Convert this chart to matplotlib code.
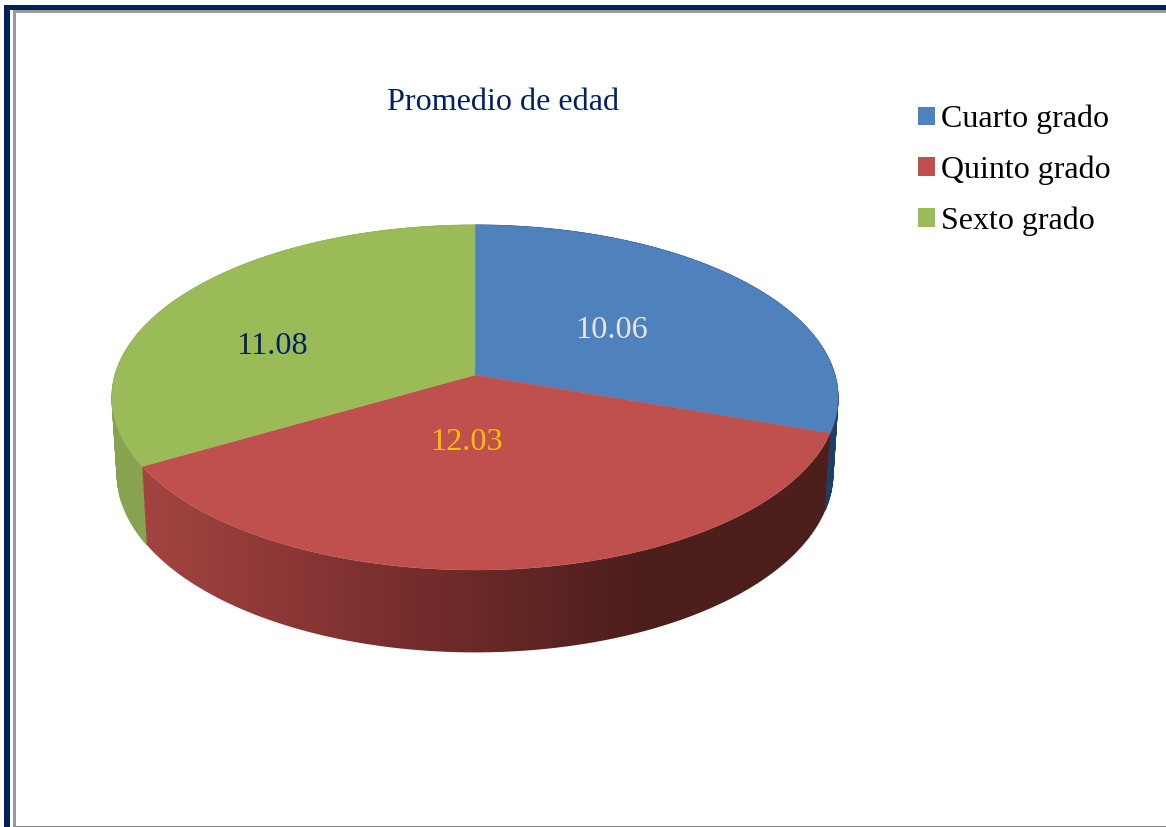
import numpy as np
import matplotlib
matplotlib.use("Agg")
import matplotlib.pyplot as plt
from matplotlib.patches import Polygon, Rectangle, Patch

categories = ["Cuarto grado", "Quinto grado", "Sexto grado"]
values = [10.06, 12.03, 11.08]
value_labels = ["10.06", "12.03", "11.08"]
title = "Promedio de edad"

top_colors = ["#4F81BD", "#C0504D", "#9BBB59"]
label_colors = ["#E6E6E6", "#FFC000", "#002060"]
label_pos = [(612, 330), (466, 442), (272, 347)]
side_flat = {0: "#1B3F66", 2: "#87A34F"}
NAVY = "#002060"

plt.rcParams["font.family"] = ["Liberation Serif", "DejaVu Serif"]
fig = plt.figure(figsize=(11.66, 8.27), dpi=100)
ax = fig.add_axes([0, 0, 1, 1])
ax.axis("off")

# page frame
ax.add_patch(Rectangle((4, 5), 1162, 5, fc=NAVY, ec="none"))
ax.add_patch(Rectangle((4, 5), 6, 822, fc=NAVY, ec="none"))
ax.add_patch(Rectangle((13, 10), 1153, 2.5, fc="#9A9A9A", ec="none"))
ax.add_patch(Rectangle((13, 10), 2.5, 817, fc="#9A9A9A", ec="none"))
ax.add_patch(Rectangle((13, 825.5), 1153, 1.5, fc="#8A8A8A", ec="none"))


def project(theta, A, B, Y0, k=0.1304):
    u, v = np.sin(theta), np.cos(theta)
    w = 1 + k * v
    return 475 + A * u / w, Y0 - B * v / w


def top(theta):
    return project(theta, 360, 169.6, 375)


def bottom(theta):
    return project(theta, 355, 176, 450)


edges = np.cumsum([0] + values) / np.sum(values) * 2 * np.pi

# flat side walls
for i in side_flat:
    th = np.linspace(edges[i], edges[i + 1], 120)
    for a, b in zip(th[:-1], th[1:]):
        xa, ya = top(a)
        xb, yb = top(b)
        xc, yc = bottom(b)
        xd, yd = bottom(a)
        ax.add_patch(Polygon([(xa, ya), (xb, yb), (xc, yc), (xd, yd)],
                             fc=side_flat[i], ec=side_flat[i], lw=0.6, zorder=1))

# shaded front wall of the largest slice
th = np.linspace(edges[1], edges[2], 300)
xt, yt = top(th)
xb, yb = bottom(th)
wall = Polygon(np.column_stack([np.r_[xt, xb[::-1]], np.r_[yt, yb[::-1]]]),
               fc="none", ec="none", transform=ax.transData)
ax.add_patch(wall)
gx = np.linspace(130, 845, 716)
stops = [146, 400, 640, 830]
grad = np.stack([np.interp(gx, stops, [163, 120, 76, 76]),
                 np.interp(gx, stops, [68, 46, 30, 30]),
                 np.interp(gx, stops, [65, 45, 28, 28])], axis=-1)[None, :, :] / 255
im = ax.imshow(grad, extent=(130, 845, 660, 420), aspect="auto", zorder=2, interpolation="bilinear")
im.set_clip_path(wall)

# top surface
for i in range(len(values)):
    th = np.linspace(edges[i], edges[i + 1], 300)
    x, y = top(th)
    pts = np.column_stack([np.r_[475, x], np.r_[375, y]])
    ax.add_patch(Polygon(pts, fc=top_colors[i], ec=top_colors[i], lw=0.3, zorder=3))

for t, c, (x, y) in zip(value_labels, label_colors, label_pos):
    ax.text(x, y, t, color=c, fontsize=23.2, ha="center", va="center", zorder=4)

ax.text(503.5, 102, title, color=NAVY, fontsize=23.1, ha="center", va="center", zorder=4)

handles = [Patch(fc=c, ec="none") for c in top_colors]
ax.set_xlim(0, 1166)
ax.set_ylim(827, 0)
ax.legend(handles, categories, loc="upper left", bbox_to_anchor=(918 / 1166, 1 - 104.7 / 827),
          bbox_transform=fig.transFigure, frameon=False, fontsize=23.0, borderpad=0, borderaxespad=0,
          handlelength=0.52, handleheight=0.52, handletextpad=0.2, labelspacing=0.67,
          labelcolor="black")

fig.savefig("out.png", dpi=100)
